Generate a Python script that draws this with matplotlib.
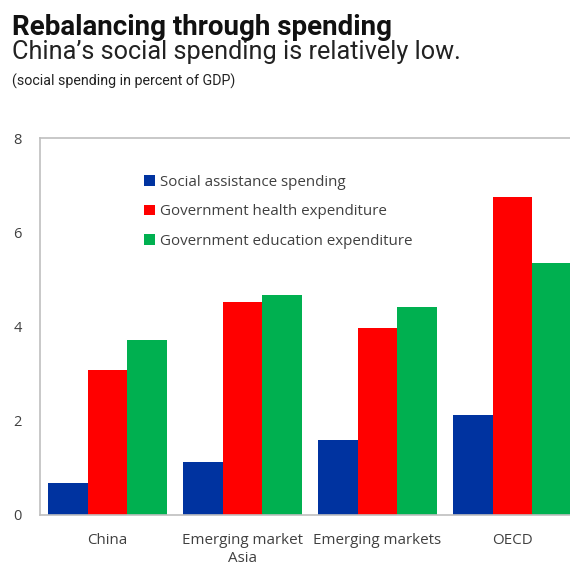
import matplotlib.pyplot as plt
import numpy as np

categories = ['China', 'Emerging market\nAsia', 'Emerging markets', 'OECD']
series_names = ['Social assistance spending',
                'Government health expenditure',
                'Government education expenditure']
social_assistance = [0.68, 1.12, 1.59, 2.12]
health = [3.08, 4.52, 3.97, 6.75]
education = [3.72, 4.67, 4.42, 5.35]
y_ticks = [0, 2, 4, 6, 8]

colors = ['#0033A0', '#FF0000', '#00B050']
tick_font = 'Open Sans'

fig = plt.figure(figsize=(5.7, 5.66), dpi=100)
ax = fig.add_axes([40 / 570, 1 - 515 / 566, 540 / 570, 377 / 566])

x = np.arange(len(categories))
width = 0.296
for i, (vals, name) in enumerate(zip([social_assistance, health, education], series_names)):
    ax.bar(x + (i - 1) * width, vals, width, color=colors[i], label=name,
           edgecolor='none', zorder=2)

ax.set_xlim(-0.5, 3.5)
ax.set_ylim(0, 8)
ax.set_yticks(y_ticks)
ax.set_xticks(x)
ax.set_xticklabels(categories, fontsize=10.9, family=tick_font, color='#404040',
                   linespacing=1.3)
for lab in ax.get_yticklabels():
    lab.set_fontsize(10.5)
    lab.set_family(tick_font)
    lab.set_color('#404040')
ax.tick_params(axis='both', length=0)
ax.tick_params(axis='y', pad=13)
ax.tick_params(axis='x', pad=13)
for side in ['left', 'bottom', 'top']:
    ax.spines[side].set_color('#BFBFBF')
    ax.spines[side].set_linewidth(1.2)
ax.spines['right'].set_visible(False)

leg = ax.legend(loc='upper left', bbox_to_anchor=(138 / 570, 1 - 169 / 566),
                bbox_transform=fig.transFigure, frameon=False,
                prop={'family': tick_font, 'size': 10.9},
                handlelength=0.7, handleheight=0.7, handletextpad=0.35,
                labelspacing=0.95, borderaxespad=0)
for t in leg.get_texts():
    t.set_color('#404040')

fig.text(12 / 570, 1 - 35 / 566, 'Rebalancing through spending',
         fontsize=20, fontweight='bold', family='Roboto', color='#111111')
fig.text(12 / 570, 1 - 59 / 566, 'China\u2019s social spending is relatively low.',
         fontsize=18.2, family='Roboto', color='#222222')
fig.text(12 / 570, 1 - 86 / 566, '(social spending in percent of GDP)',
         fontsize=10.3, family='Roboto', color='#222222')

fig.savefig('out.png', dpi=100)
